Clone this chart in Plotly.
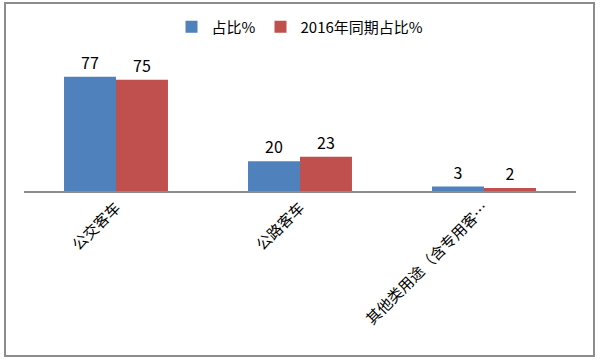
import plotly.graph_objects as go

categories = ["公交客车", "公路客车", "其他类用途（含专用客…"]
share = [77, 20, 3]
share_2016 = [75, 23, 2]
series_names = ["占比%", "2016年同期占比%"]

FONT = "Noto Sans CJK SC, Liberation Sans, sans-serif"

fig = go.Figure()
fig.add_trace(go.Bar(
    x=categories, y=share, name=series_names[0],
    marker=dict(color="#4F81BD", line=dict(width=0)),
    text=[str(v) for v in share], textposition="outside",
    textfont=dict(size=16, color="#000000", family=FONT),
    cliponaxis=False,
))
fig.add_trace(go.Bar(
    x=categories, y=share_2016, name=series_names[1],
    marker=dict(color="#C0504D", line=dict(width=0)),
    text=[str(v) for v in share_2016], textposition="outside",
    textfont=dict(size=16, color="#000000", family=FONT),
    cliponaxis=False,
))

t, b, l, r = 50, 172, 24, 24
W, H = 600, 363
pw, ph = W - l - r, H - t - b

def px_x(p):
    return (p - l) / pw

def px_y(p):
    return (H - b - p) / ph

fig.update_layout(
    width=W, height=H,
    margin=dict(t=t, b=b, l=l, r=r, pad=0, autoexpand=False),
    paper_bgcolor="white", plot_bgcolor="white",
    barmode="group", bargap=0.435, bargroupgap=0,
    font=dict(family=FONT, size=15, color="#000000"),
    showlegend=True,
    legend=dict(orientation="h", x=0.5, xanchor="center", y=px_y(27), yanchor="middle",
                font=dict(size=15, family=FONT), itemwidth=30, tracegroupgap=0,
                bgcolor="rgba(0,0,0,0)"),
    xaxis=dict(showline=True, linecolor="#8c8c8c", linewidth=2, ticks="",
               tickangle=-45, tickfont=dict(size=15, family=FONT), showgrid=False,
               fixedrange=True, automargin=False),
    yaxis=dict(range=[0, 95], visible=False, showgrid=False, fixedrange=True),
    shapes=[dict(type="rect", xref="paper", yref="paper",
                 x0=px_x(5), x1=px_x(594), y0=px_y(356), y1=px_y(3),
                 line=dict(color="#8c8c8c", width=2), fillcolor="rgba(0,0,0,0)", layer="below")],
)

fig.write_html("out.html", config={"displayModeBar": False},
               post_script="document.body.style.margin='0';document.body.style.overflow='hidden';")
